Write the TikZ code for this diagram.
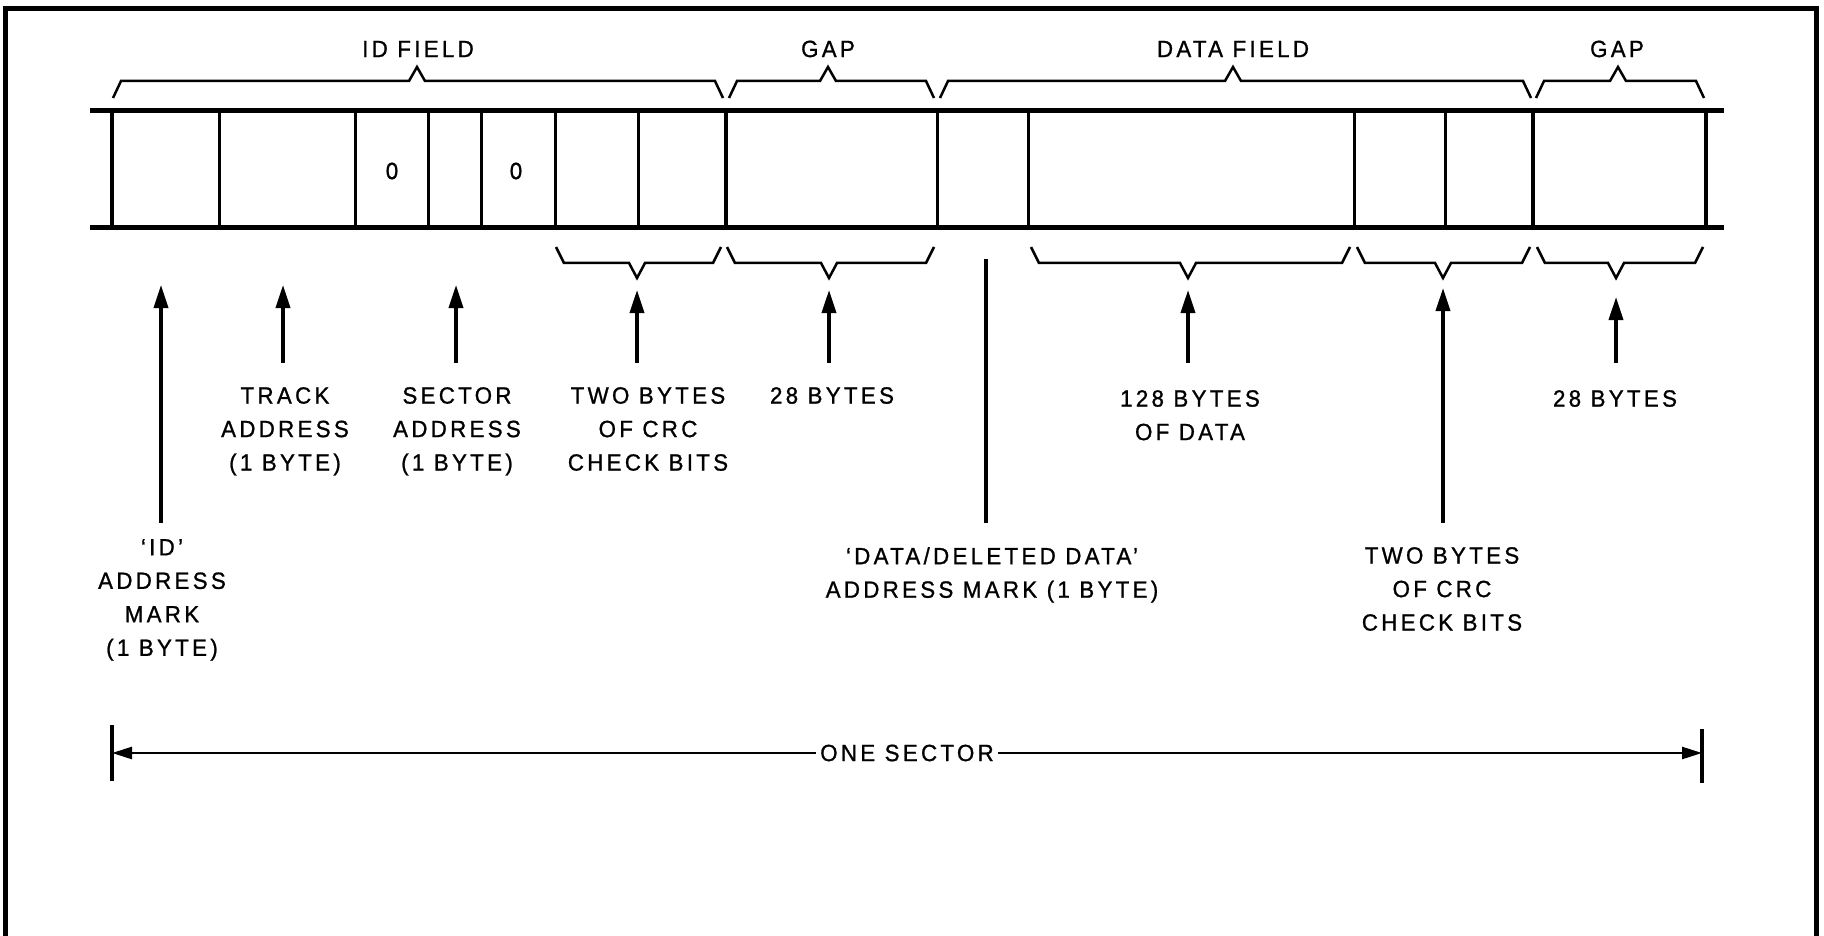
\documentclass[tikz,border=0pt]{standalone}
\usepackage{fontspec}
\setmainfont{Liberation Sans}[LetterSpace=14, FakeStretch=0.95, FakeBold=1]
\usetikzlibrary{arrows.meta,positioning}
\begin{document}
\begin{tikzpicture}[x=1pt,y=-1pt,
  lbl/.style={font=\fontsize{23.5}{33.5}\selectfont, align=center, inner sep=0pt, anchor=north},
  title/.style={font=\fontsize{23.5}{33.5}\selectfont, inner sep=0pt},
  brace/.style={line width=2.5pt, line join=miter},
  arr/.style={line width=3.5pt, -{Triangle[length=23pt,width=14pt]}},
  dim/.style={line width=2.5pt, {Triangle[length=20pt,width=12pt]}-{Triangle[length=20pt,width=12pt]}}]
\useasboundingbox (0,0) rectangle (1824,936);
% Frame, open at the bottom
\draw[line width=5pt] (5,936) -- (5,9) -- (1816,9) -- (1816,936);

% Tape
\draw[line width=5pt] (90,111) -- (1724,111);
\draw[line width=5pt] (90,228) -- (1724,228);
\foreach \x in {219,355,428,481,555,638,937,1028,1354,1445}
  \draw[line width=3pt] (\x,111) -- (\x,228);
\foreach \x in {112,726,1533,1706}
  \draw[line width=4.5pt] (\x,111) -- (\x,228);
\node[title] (zeroA) at (392,171) {0};
\node[title] (zeroB) at (516,171) {0};

% Braces above the tape
\foreach \a/\t/\b in {113/417/723, 729/828/934, 940/1233/1531, 1536/1618/1704}
  \draw[brace] (\a,98) -- (\a+8,81) -- (\t-8,81) -- (\t,67) -- (\t+8,81) -- (\b-8,81) -- (\b,98);
\node[title] (idField) at (418,49) {ID FIELD};
\node[title] (gapTopA) at (828,49) {GAP};
\node[title] (dataField) at (1233,49) {DATA FIELD};
\node[title] (gapTopB) at (1617,49) {GAP};

% Braces below the tape
\foreach \a/\t/\b in {556/637/721, 727/829/934, 1031/1188/1350, 1357/1443/1530, 1537/1616/1703}
  \draw[brace] (\a,247) -- (\a+8,263) -- (\t-8,263) -- (\t,278) -- (\t+8,263) -- (\b-8,263) -- (\b,247);

% Arrow tips
\coordinate (tipId) at (161,285);
\coordinate (tipTrack) at (283,285);
\coordinate (tipSector) at (456,285);
\coordinate (tipCrcA) at (637,290);
\coordinate (tipGapA) at (829,290);
\coordinate (tipDam) at (986,259);
\coordinate (tipData) at (1188,290);
\coordinate (tipCrcB) at (1443,288);
\coordinate (tipGapB) at (1616,297);

% Labels
\node[lbl] (lblTrack) at (285,387) {TRACK\\ADDRESS\\(1 BYTE)};
\node[lbl] (lblSector) at (457,387) {SECTOR\\ADDRESS\\(1 BYTE)};
\node[lbl] (lblCrcA) at (648,387) {TWO BYTES\\OF CRC\\CHECK BITS};
\node[lbl] (lblGapA) at (832,387) {28 BYTES};
\node[lbl] (lblData) at (1190,390) {128 BYTES\\OF DATA};
\node[lbl] (lblGapB) at (1615,390) {28 BYTES};
\node[lbl] (lblId) at (162,539) {‘ID’\\ADDRESS\\MARK\\(1 BYTE)};
\node[lbl] (lblDam) at (992,547) {‘DATA/DELETED DATA’\\ADDRESS MARK (1 BYTE)};
\node[lbl] (lblCrcB) at (1442,547) {TWO BYTES\\OF CRC\\CHECK BITS};

% Pointers
\draw[arr, shorten <=16pt] (tipId |- lblId.north) -- (tipId);
\draw[arr, shorten <=24pt] (tipTrack |- lblTrack.north) -- (tipTrack);
\draw[arr, shorten <=24pt] (tipSector |- lblSector.north) -- (tipSector);
\draw[arr, shorten <=24pt] (tipCrcA |- lblCrcA.north) -- (tipCrcA);
\draw[arr, shorten <=24pt] (tipGapA |- lblGapA.north) -- (tipGapA);
\draw[line width=3.5pt, shorten <=24pt] (tipDam |- lblDam.north) -- (tipDam);
\draw[arr, shorten <=27pt] (tipData |- lblData.north) -- (tipData);
\draw[arr, shorten <=24pt] (tipCrcB |- lblCrcB.north) -- (tipCrcB);
\draw[arr, shorten <=27pt] (tipGapB |- lblGapB.north) -- (tipGapB);

% One sector
\coordinate (secL) at (112,753);
\coordinate (secR) at (1702,753);
\draw[line width=4pt] (secL) ++(0,-28) -- ++(0,56);
\draw[line width=4pt] (secR) ++(0,-24) -- ++(0,54);
\draw[dim] (secL) -- node[title, fill=white, inner xsep=4pt] (oneSector) {ONE SECTOR} (secR);
\end{tikzpicture}
\end{document}
